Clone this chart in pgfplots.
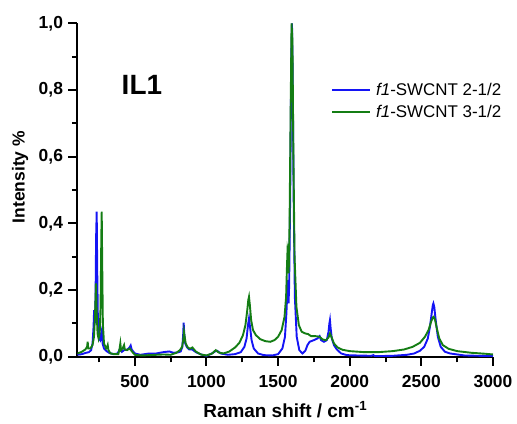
\documentclass[border=0pt]{standalone}
\usepackage{pgfplots}
\pgfplotsset{compat=1.18}
\usepackage{fontspec}
\setmainfont{Liberation Sans}
\definecolor{cblue}{RGB}{20,20,245}
\definecolor{cgreen}{RGB}{20,125,20}
\begin{document}
\begin{tikzpicture}
\useasboundingbox (-77.5bp,-66.3bp) rectangle (439.5bp,356.8bp);
\begin{axis}[
  scale only axis, width=415.5bp, height=333.5bp,
  xmin=100, xmax=3000, ymin=0, ymax=1,
  axis lines=left, axis line style={-, line width=2bp},
  tick align=outside,
  major tick length=9bp, minor tick length=5.5bp,
  every tick/.style={line width=2bp, black},
  xtick={500,1000,...,3000}, minor xtick={250,750,...,2750},
  ytick={0,0.2,...,1}, minor ytick={0.1,0.3,...,0.9},
  /pgf/number format/assume math mode=true,
  ticklabel style={font=\fontsize{17.5}{17.5}\selectfont\bfseries},
  xticklabel style={/pgf/number format/1000 sep={}, yshift=-6bp},
  yticklabel style={/pgf/number format/.cd, use comma, fixed, fixed zerofill, precision=1, /tikz/.cd, xshift=-2bp},
  xlabel={\textbf{Raman shift / cm\textsuperscript{-1}}},
  ylabel={\textbf{Intensity \%}},
  xlabel style={font=\fontsize{19}{19}\selectfont, at={(axis description cs:0.5,-0.181)}, anchor=base},
  ylabel style={font=\fontsize{17.5}{17.5}\selectfont, at={(axis description cs:-0.138,0.539)}, anchor=center},
  legend style={draw=none, fill=none, at={(0.603,0.833)}, anchor=north west,
    font=\fontsize{17}{17}\selectfont, row sep=4bp,
    /tikz/every odd column/.style={column sep=3bp}},
  legend cell align=left,
  legend image code/.code={\draw[mark repeat=2,mark phase=2,#1] plot coordinates {(0bp,0bp) (19bp,0bp) (38bp,0bp)};},
]
\addplot[cblue, line width=1.9bp] coordinates {
(100,0.006) (130,0.008) (160,0.012) (180,0.014) (195,0.02) (205,0.04) (212,0.09) (216,0.14) (221,0.1) (226,0.18) (230,0.36) (234,0.435) (238,0.25) (243,0.09) (250,0.055) (258,0.05) (265,0.07) (270,0.08) (275,0.04) (285,0.025) (300,0.018) (320,0.012) (350,0.008) (380,0.01) (398,0.025) (410,0.015) (425,0.02) (450,0.022) (463,0.028) (471,0.034) (478,0.022) (500,0.01) (540,0.006) (600,0.01) (650,0.01) (700,0.014) (740,0.016) (770,0.012) (800,0.013) (820,0.016) (832,0.03) (838,0.07) (841,0.102) (845,0.07) (852,0.04) (865,0.028) (880,0.022) (900,0.022) (930,0.013) (970,0.006) (1000,0.003) (1030,0.008) (1060,0.016) (1075,0.018) (1100,0.01) (1150,0.006) (1200,0.008) (1240,0.014) (1265,0.03) (1280,0.055) (1290,0.095) (1297,0.115) (1304,0.09) (1315,0.05) (1330,0.025) (1360,0.01) (1400,0.005) (1460,0.004) (1500,0.008) (1530,0.025) (1548,0.06) (1558,0.13) (1565,0.2) (1569,0.23) (1573,0.16) (1577,0.21) (1585,0.5) (1592,0.9) (1597,1.0) (1602,0.85) (1608,0.5) (1617,0.18) (1630,0.06) (1648,0.02) (1670,0.01) (1690,0.018) (1705,0.035) (1720,0.045) (1750,0.05) (1775,0.055) (1790,0.062) (1800,0.05) (1820,0.045) (1840,0.05) (1852,0.075) (1858,0.1) (1862,0.11) (1867,0.085) (1875,0.055) (1890,0.035) (1910,0.022) (1940,0.01) (1980,0.005) (2050,0.004) (2150,0.003) (2165,0.005) (2175,0.002) (2300,0.003) (2400,0.006) (2450,0.01) (2490,0.018) (2520,0.03) (2545,0.055) (2560,0.09) (2572,0.13) (2580,0.155) (2584,0.16) (2590,0.15) (2600,0.11) (2615,0.06) (2635,0.03) (2665,0.015) (2700,0.01) (2800,0.004) (2900,0.003) (3000,0.002)
};
\addlegendentry{\textit{f1}-SWCNT 2-1/2}
\addplot[cgreen, line width=1.9bp] coordinates {
(100,0.01) (130,0.015) (155,0.022) (167,0.03) (171,0.045) (175,0.025) (190,0.025) (205,0.035) (215,0.06) (222,0.12) (229,0.22) (234,0.13) (240,0.07) (247,0.055) (255,0.07) (261,0.15) (266,0.35) (269,0.435) (272,0.3) (277,0.1) (285,0.04) (300,0.025) (306,0.028) (311,0.035) (316,0.02) (330,0.01) (360,0.008) (385,0.008) (394,0.025) (399,0.04) (404,0.02) (415,0.025) (425,0.035) (430,0.022) (445,0.02) (465,0.025) (480,0.016) (500,0.006) (550,0.004) (600,0.005) (650,0.006) (700,0.007) (750,0.006) (790,0.012) (815,0.02) (830,0.03) (838,0.05) (843,0.075) (848,0.06) (855,0.04) (870,0.028) (885,0.024) (902,0.028) (925,0.016) (960,0.007) (1000,0.004) (1040,0.01) (1065,0.02) (1085,0.013) (1120,0.01) (1160,0.016) (1200,0.028) (1230,0.042) (1255,0.065) (1272,0.095) (1285,0.14) (1292,0.17) (1297,0.18) (1303,0.155) (1312,0.11) (1325,0.08) (1345,0.065) (1375,0.053) (1410,0.047) (1445,0.045) (1475,0.05) (1500,0.06) (1525,0.08) (1545,0.12) (1556,0.18) (1562,0.27) (1566,0.32) (1570,0.31) (1574,0.25) (1580,0.4) (1588,0.75) (1594,1.0) (1600,0.95) (1607,0.6) (1615,0.3) (1628,0.15) (1645,0.095) (1665,0.075) (1690,0.07) (1710,0.068) (1730,0.062) (1760,0.062) (1790,0.06) (1810,0.052) (1835,0.05) (1852,0.058) (1862,0.07) (1872,0.06) (1890,0.04) (1915,0.028) (1950,0.021) (2000,0.017) (2100,0.014) (2200,0.014) (2300,0.017) (2380,0.022) (2440,0.03) (2490,0.042) (2525,0.06) (2550,0.08) (2568,0.105) (2580,0.118) (2586,0.12) (2595,0.112) (2608,0.085) (2625,0.055) (2650,0.035) (2690,0.024) (2750,0.017) (2850,0.012) (2950,0.009) (3000,0.007)
};
\addlegendentry{\textit{f1}-SWCNT 3-1/2}
\node[font=\fontsize{28}{28}\selectfont\bfseries] at (rel axis cs:0.155,0.815) {IL1};
\end{axis}
\end{tikzpicture}
\end{document}
